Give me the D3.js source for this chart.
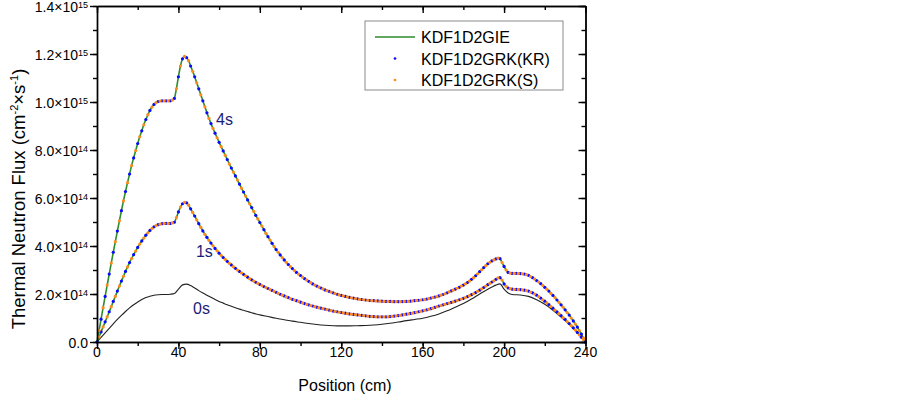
<!DOCTYPE html>
<html><head><meta charset="utf-8">
<script src="https://cdn.jsdelivr.net/npm/d3@7/dist/d3.min.js"></script>
<style>body{margin:0;background:#fff}svg{display:block;font-family:Arial,"Liberation Sans",sans-serif}</style>
</head><body><svg id="c" width="903" height="395"></svg>
<script>
// ---- data (flux in units of 1e14 cm^-2 s^-1, position in cm) ----
const krPositions = d3.range(0, 241, 2);   // KDF1D2GRK(KR) sample points
const sPositions = d3.range(1, 240, 2);    // KDF1D2GRK(S) sample points

const flux4sKR = [0,0.95,1.9,2.83,3.74,4.62,5.47,6.27,7.0,7.67,8.27,8.8,9.27,9.65,9.9,10.02,10.05,10.05,10.05,10.15,
 11.05,11.8,11.85,11.5,11.05,10.55,10.05,9.55,9.1,8.7,8.32,7.96,7.6,7.25,6.92,6.58,6.25,5.92,5.6,5.28,
 4.98,4.68,4.39,4.11,3.85,3.63,3.42,3.23,3.06,2.9,2.77,2.64,2.53,2.42,2.33,2.25,2.17,2.11,2.05,1.99,
 1.94,1.9,1.86,1.83,1.8,1.77,1.75,1.73,1.72,1.71,1.7,1.69,1.69,1.68,1.68,1.685,1.69,1.7,1.72,1.74,
 1.76,1.79,1.83,1.87,1.92,1.98,2.05,2.13,2.2,2.28,2.37,2.48,2.61,2.76,2.93,3.1,3.26,3.38,3.46,3.47,
 3.15,2.9,2.86,2.86,2.85,2.83,2.78,2.68,2.56,2.43,2.28,2.12,1.94,1.75,1.55,1.34,1.12,0.88,0.62,0.33,0];
const flux4sS = [0.48,1.43,2.37,3.29,4.18,5.05,5.88,6.64,7.35,7.98,8.55,9.05,9.47,9.79,9.97,10.04,10.05,10.05,10.08,10.55,
 11.5,11.9,11.72,11.28,10.8,10.3,9.8,9.32,8.9,8.51,8.14,7.78,7.42,7.08,6.75,6.41,6.08,5.76,5.44,5.13,
 4.83,4.53,4.25,3.98,3.74,3.52,3.32,3.14,2.98,2.83,2.7,2.58,2.47,2.37,2.29,2.21,2.14,2.08,2.02,1.96,
 1.92,1.88,1.84,1.81,1.78,1.76,1.74,1.72,1.71,1.7,1.69,1.69,1.68,1.68,1.68,1.69,1.69,1.71,1.73,1.75,
 1.77,1.81,1.85,1.89,1.95,2.01,2.09,2.16,2.24,2.33,2.42,2.54,2.68,2.84,3.01,3.18,3.32,3.42,3.5,3.31,
 3.0,2.87,2.86,2.85,2.84,2.81,2.73,2.62,2.5,2.36,2.2,2.03,1.85,1.65,1.45,1.23,1.0,0.75,0.48,0.17];

const flux1sKR = [0,0.42,0.84,1.26,1.69,2.12,2.54,2.94,3.31,3.64,3.94,4.21,4.45,4.65,4.8,4.89,4.93,4.94,4.94,4.99,
 5.42,5.76,5.8,5.55,5.25,4.93,4.63,4.36,4.12,3.9,3.7,3.52,3.36,3.21,3.07,2.94,2.82,2.7,2.59,2.49,
 2.4,2.31,2.23,2.15,2.07,1.99,1.92,1.85,1.78,1.72,1.66,1.6,1.55,1.5,1.45,1.41,1.37,1.33,1.29,1.26,
 1.23,1.2,1.17,1.15,1.13,1.11,1.09,1.07,1.06,1.05,1.05,1.05,1.06,1.08,1.1,1.13,1.16,1.19,1.22,1.26,
 1.3,1.34,1.39,1.44,1.5,1.55,1.6,1.65,1.7,1.76,1.82,1.89,1.97,2.06,2.16,2.27,2.39,2.5,2.61,2.68,
 2.42,2.25,2.2,2.19,2.18,2.16,2.12,2.05,1.95,1.83,1.7,1.56,1.41,1.26,1.1,0.94,0.77,0.59,0.4,0.2,0];
const flux1sS = [0.21,0.63,1.05,1.47,1.9,2.33,2.74,3.13,3.48,3.79,4.08,4.33,4.55,4.73,4.85,4.91,4.94,4.94,4.96,5.18,
 5.62,5.82,5.7,5.4,5.09,4.78,4.49,4.24,4.01,3.8,3.61,3.44,3.28,3.14,3.0,2.88,2.76,2.64,2.54,2.44,
 2.35,2.27,2.19,2.11,2.03,1.95,1.88,1.81,1.75,1.69,1.63,1.57,1.52,1.47,1.43,1.39,1.35,1.31,1.27,1.24,
 1.21,1.18,1.16,1.14,1.12,1.1,1.08,1.06,1.05,1.05,1.05,1.05,1.07,1.09,1.11,1.14,1.17,1.2,1.24,1.28,
 1.32,1.36,1.41,1.47,1.52,1.57,1.62,1.67,1.73,1.79,1.85,1.93,2.01,2.11,2.21,2.33,2.44,2.55,2.67,2.58,
 2.32,2.22,2.19,2.18,2.17,2.14,2.08,2.0,1.89,1.76,1.63,1.48,1.33,1.18,1.02,0.85,0.68,0.5,0.3,0.1];

const positions0s = [0,2,4,6,8,10,12,14,16,18,20,22,24,26,28,30,32,34,36,38,40,42,44,46,48,50,52,54,56,58,60,62,64,66,68,70,72,74,76,78,80,
 84,88,92,96,100,104,108,112,116,120,124,128,132,136,140,144,148,152,156,160,164,168,172,176,180,184,188,192,194,196,198,200,202,204,208,212,216,220,224,228,232,236,240];
const flux0s = [0,0.19,0.38,0.57,0.76,0.94,1.11,1.27,1.42,1.55,1.67,1.77,1.85,1.91,1.95,1.97,1.98,1.98,1.99,2.02,2.2,2.38,2.41,2.35,2.25,2.14,2.04,1.95,1.86,1.77,1.69,1.62,1.55,1.49,1.43,1.37,1.32,1.27,1.22,1.17,1.13,
 1.06,0.99,0.93,0.87,0.82,0.77,0.73,0.7,0.68,0.67,0.67,0.68,0.69,0.71,0.74,0.78,0.83,0.89,0.94,0.99,1.07,1.17,1.3,1.45,1.6,1.79,2.0,2.2,2.29,2.37,2.42,2.2,2.04,1.98,1.96,1.9,1.76,1.57,1.32,1.04,0.73,0.38,0];

const xTicks = [0,40,80,120,160,200,240];
const xMinorTicks = [0,20,40,60,80,100,120,140,160,180,200,220,240];
const yTicks = [0,2,4,6,8,10,12,14];
const yMinorTicks = [0,1,2,3,4,5,6,7,8,9,10,11,12,13,14];
const yTickMantissa = ["0.0","2.0×10","4.0×10","6.0×10","8.0×10","1.0×10","1.2×10","1.4×10"];
const yTickExponent = ["","14","14","14","14","15","15","15"];
const seriesNames = ["KDF1D2GIE","KDF1D2GRK(KR)","KDF1D2GRK(S)"];
const timeLabels = ["4s","1s","0s"];

// ---- drawing ----
const svg = d3.select("#c");
const x = d3.scaleLinear().domain([0,240]).range([97,585.5]);
const y = d3.scaleLinear().domain([0,14]).range([342,6]);
const green = "#2e8b2e", blue = "#0a0aff", orange = "#ff8a1a", navy = "#1c1c78";

function merge(px, pv, sx, sv){
  const a = px.map((p,i)=>[p,pv[i]]).concat(sx.map((p,i)=>[p,sv[i]]));
  return a.sort((m,n)=>m[0]-n[0]);
}
const line = d3.line().x(d=>x(d[0])).y(d=>y(d[1])).curve(d3.curveMonotoneX);

// 0s
svg.append("path").datum(positions0s.map((p,i)=>[p,flux0s[i]]))
  .attr("d",line).attr("fill","none").attr("stroke","#222").attr("stroke-width",1.1);

// GIE lines
[[flux1sKR,flux1sS],[flux4sKR,flux4sS]].forEach(([a,b])=>{
  svg.append("path").datum(merge(krPositions,a,sPositions,b))
    .attr("d",line).attr("fill","none").attr("stroke",green).attr("stroke-width",1.6);
});
// dots
const R = 1.6;
function dots(px, pv, color){
  svg.append("g").selectAll("circle").data(px.map((p,i)=>[p,pv[i]])).join("circle")
    .attr("cx",d=>x(d[0])).attr("cy",d=>y(d[1])).attr("r",R).attr("fill",color);
}
dots(krPositions, flux1sKR, blue);
dots(sPositions, flux1sS, orange);
dots(krPositions, flux4sKR, blue);
dots(sPositions, flux4sS, orange);

// axes
function styleAxis(g){ g.selectAll("path,line").attr("stroke","#000").attr("stroke-width",1.4); g.selectAll("text").remove(); }
svg.append("g").attr("transform","translate(97,0)").call(d3.axisLeft(y).tickValues(yMinorTicks).tickSize(4).tickSizeOuter(0)).call(styleAxis);
svg.append("g").attr("transform","translate(97,0)").call(d3.axisLeft(y).tickValues(yTicks).tickSize(7).tickSizeOuter(0)).call(styleAxis);
svg.append("g").attr("transform","translate(585.5,0)").call(d3.axisLeft(y).tickValues(yMinorTicks).tickSize(4).tickSizeOuter(0)).call(styleAxis);
svg.append("g").attr("transform","translate(585.5,0)").call(d3.axisLeft(y).tickValues(yTicks).tickSize(7).tickSizeOuter(0)).call(styleAxis);
svg.append("g").attr("transform","translate(0,342)").call(d3.axisBottom(x).tickValues(xMinorTicks).tickSize(4).tickSizeOuter(0)).call(styleAxis);
svg.append("g").attr("transform","translate(0,342)").call(d3.axisBottom(x).tickValues(xTicks).tickSize(7).tickSizeOuter(0)).call(styleAxis);
svg.append("g").attr("transform","translate(0,6)").call(d3.axisBottom(x).tickValues(xMinorTicks).tickSize(4).tickSizeOuter(0)).call(styleAxis);
svg.append("g").attr("transform","translate(0,6)").call(d3.axisBottom(x).tickValues(xTicks).tickSize(7).tickSizeOuter(0)).call(styleAxis);

// tick labels
yTicks.forEach((v,i)=>{
  const t = svg.append("text").attr("x",88).attr("y",y(v)+5.5).attr("text-anchor","end").attr("font-size",14).attr("fill","#000");
  t.append("tspan").text(yTickMantissa[i]);
  if(yTickExponent[i]) t.append("tspan").attr("dy",-3.5).attr("font-size",9).text(yTickExponent[i]);
});
xTicks.forEach(v=>{
  svg.append("text").attr("x",x(v)).attr("y",357).attr("text-anchor","middle").attr("font-size",14).text(v);
});
svg.append("text").attr("x",345).attr("y",391).attr("text-anchor","middle").attr("font-size",16).text("Position (cm)");
const yt = svg.append("text").attr("transform","translate(25,199) rotate(-90)").attr("text-anchor","middle").attr("font-size",18.5);
yt.append("tspan").text("Thermal Neutron Flux (cm");
yt.append("tspan").attr("dy",-7).attr("font-size",11).text("-2");
yt.append("tspan").attr("dy",7).text("×s");
yt.append("tspan").attr("dy",-7).attr("font-size",11).text("-1");
yt.append("tspan").attr("dy",7).text(")");

// time labels
const labelPos = [[58.5,9.04],[48.6,3.54],[47.2,1.17]];
timeLabels.forEach((s,i)=>{
  svg.append("text").attr("x",x(labelPos[i][0])).attr("y",y(labelPos[i][1])).attr("font-size",16).attr("fill",navy).text(s);
});

// legend
const lg = svg.append("g");
lg.append("rect").attr("x",365).attr("y",21).attr("width",198).attr("height",69).attr("fill","#fff").attr("stroke","#8a8a8a").attr("stroke-width",1);
const rowY = [37,58.5,80];
lg.append("line").attr("x1",375).attr("x2",415).attr("y1",rowY[0]).attr("y2",rowY[0]).attr("stroke",green).attr("stroke-width",1.6);
lg.append("circle").attr("cx",395).attr("cy",rowY[1]).attr("r",1.35).attr("fill",blue);
lg.append("circle").attr("cx",395).attr("cy",rowY[2]).attr("r",1.35).attr("fill",orange);
seriesNames.forEach((n,i)=>{
  lg.append("text").attr("x",421).attr("y",rowY[i]+6).attr("font-size",16).text(n);
});
</script></body></html>
